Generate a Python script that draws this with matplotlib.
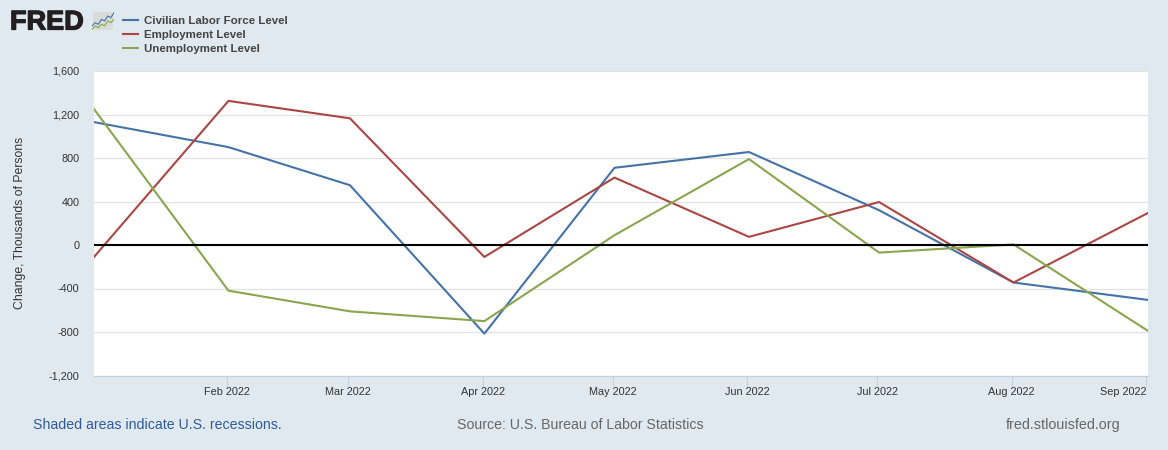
"""FRED chart: monthly change in labor force, employment and unemployment levels."""

import matplotlib
matplotlib.use("Agg")
import matplotlib.patheffects as pe
import matplotlib.pyplot as plt
import pandas as pd
from matplotlib.patches import FancyBboxPatch

plt.rcParams["font.family"] = ["Liberation Sans", "DejaVu Sans"]

# Data

MONTHS = ["2022-01-01", "2022-02-01", "2022-03-01", "2022-04-01", "2022-05-01",
          "2022-06-01", "2022-07-01", "2022-08-01", "2022-09-01"]
LABOR_FORCE = [1130, 900, 550, -815, 710, 855, 320, -345, -505]
EMPLOYMENT = [-110, 1325, 1165, -110, 620, 75, 395, -345, 295]
UNEMPLOYMENT = [1250, -420, -610, -700, 90, 790, -70, 5, -790]

Y_TICKS = [-1200, -800, -400, 0, 400, 800, 1200, 1600]
X_TICK_LABELS = ["Feb 2022", "Mar 2022", "Apr 2022", "May 2022",
                 "Jun 2022", "Jul 2022", "Aug 2022", "Sep 2022"]

# Logo sparkline shapes
ICON_BLUE = [3, 5, 4, 7, 6, 9, 8, 11]
ICON_GREEN = [1, 3, 2, 4, 3, 6, 5, 7]

BG = "#e1e9f0"
W, H = 1168, 450

dates = pd.to_datetime(MONTHS)

fig = plt.figure(figsize=(W / 100, H / 100), dpi=100, facecolor=BG)
ax = fig.add_axes([94 / W, 1 - 375.5 / H, (1148 - 94) / W, 304.5 / H])

ax.plot(dates, LABOR_FORCE, color="#4572a7", linewidth=1.5, zorder=3, label="Civilian Labor Force Level")
ax.plot(dates, EMPLOYMENT, color="#aa4643", linewidth=1.5, zorder=3, label="Employment Level")
ax.plot(dates, UNEMPLOYMENT, color="#89a54e", linewidth=1.5, zorder=3, label="Unemployment Level")
ax.axhline(0, color="black", linewidth=1.5, zorder=4)

ax.set_xlim(dates[0], dates[-1])
ax.set_ylim(-1200, 1600)
ax.set_yticks(Y_TICKS)
ax.set_yticklabels([f"{v:,}" for v in Y_TICKS], fontsize=7.8, color="#333333")

# the tick marks sit a little left of the data points in the original
ax.set_xticks(dates[1:] - pd.Timedelta(hours=10))
x_labels = ax.set_xticklabels(X_TICK_LABELS, fontsize=7.8, color="#333333")
x_labels[-1].set_ha("right")

ax.tick_params(axis="y", length=0, pad=10.5)
ax.tick_params(axis="x", length=7, width=0.8, color="#c0d0e0", pad=1)
ax.grid(axis="y", color="#e2e2e2", linewidth=0.9, zorder=0)
ax.set_axisbelow(True)
for side in ["top", "right", "left"]:
    ax.spines[side].set_visible(False)
ax.spines["bottom"].set_color("#c0d0e0")
ax.spines["bottom"].set_linewidth(0.9)

fig.text(20 / W, 1 - 223 / H, "Change, Thousands of Persons", rotation=90,
         ha="center", va="center", fontsize=8.8, color="#333333")

# Legend, placed by hand so it sits next to the logo
handles, labels = ax.get_legend_handles_labels()
legend = fig.legend(handles, labels, loc="upper left", bbox_to_anchor=(123 / W, 1 - 15.5 / H),
                    frameon=False, fontsize=8.25, handlelength=1.3, handletextpad=0.52,
                    labelspacing=0.37, borderaxespad=0, borderpad=0)
for t in legend.get_texts():
    t.set_color("#444444")
    t.set_fontweight("bold")

# Logo
fig.text(10 / W, 1 - 22.5 / H, "FRED", fontsize=19.5, fontweight="bold", color="#231f20",
         ha="left", va="center",
         path_effects=[pe.withStroke(linewidth=0.9, foreground="#231f20")])
icon = fig.add_axes([92 / W, 1 - 31 / H, 22 / W, 20 / H])
icon.axis("off")
icon.set_xlim(0, 1)
icon.set_ylim(0, 1)
icon.add_patch(FancyBboxPatch((0.05, 0.05), 0.9, 0.9, boxstyle="round,pad=0,rounding_size=0.1",
                              facecolor="#d8dcd8", edgecolor="none"))
icon_x = [i / (len(ICON_BLUE) - 1) for i in range(len(ICON_BLUE))]
icon.plot(icon_x, [v / 12 for v in ICON_BLUE], color="#4572a7", linewidth=0.8)
icon.plot(icon_x, [v / 12 for v in ICON_GREEN], color="#89a54e", linewidth=0.8)

# Footer
fig.text(33 / W, 1 - 425 / H, "Shaded areas indicate U.S. recessions.", fontsize=10.2,
         color="#2f5a9a", ha="left", va="center")
fig.text(457 / W, 1 - 425 / H, "Source: U.S. Bureau of Labor Statistics", fontsize=10.2,
         color="#666666", ha="left", va="center")
fig.text(1006 / W, 1 - 425 / H, "fred.stlouisfed.org", fontsize=10.4,
         color="#666666", ha="left", va="center")

fig.savefig("out.png", dpi=100, facecolor=BG)
plt.close(fig)
